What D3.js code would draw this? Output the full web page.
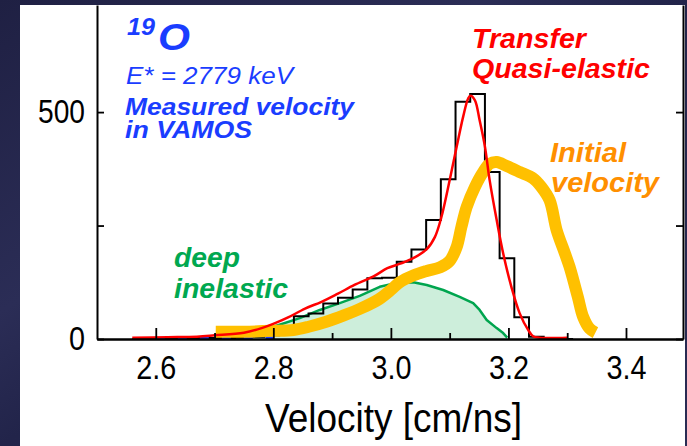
<!DOCTYPE html>
<html>
<head>
<meta charset="utf-8">
<script src="https://cdnjs.cloudflare.com/ajax/libs/d3/7.8.5/d3.min.js"></script>
<style>
  html, body { margin: 0; padding: 0; background: #22244a; }
  svg { display: block; }
  text { font-family: "Liberation Sans", Arial, Helvetica, sans-serif; }
</style>
</head>
<body>
<div id="chart"></div>
<script>
// Measured velocity histogram (counts per 0.025 cm/ns bin)
const binStart = 2.56;
const binWidth = 0.025;
const histCounts = [0, 0, 1, 1, 2, 2, 2, 3, 5, 8, 15, 50, 56, 78, 91, 109, 134, 135,
                    170, 197, 262, 352, 523, 540, 368, 178, 48, 5, 1, 0];

// Transfer / quasi-elastic fit [velocity, counts]
const transferCurve = [
  [2.56, 3], [2.62, 4], [2.67, 5], [2.70, 8], [2.75, 14], [2.78, 24], [2.805, 36],
  [2.826, 48], [2.854, 67], [2.882, 82], [2.91, 100], [2.938, 119], [2.972, 139],
  [2.994, 156], [3.016, 166], [3.038, 178], [3.061, 198], [3.075, 225], [3.086, 269],
  [3.100, 350], [3.112, 424], [3.123, 490], [3.1315, 530], [3.1355, 536], [3.143, 526],
  [3.151, 482], [3.160, 424], [3.168, 350], [3.180, 262], [3.191, 189], [3.205, 115],
  [3.219, 57], [3.2335, 20], [3.242, 6], [3.253, 3], [3.30, 3]
];

// Deep inelastic component [velocity, counts]
const deepCurve = [
  [2.704, 1], [2.743, 6], [2.777, 17], [2.80, 27], [2.845, 46], [2.879, 64], [2.913, 79],
  [2.947, 95], [2.981, 115], [3.004, 122], [3.038, 125], [3.061, 119], [3.089, 108],
  [3.117, 93], [3.14, 79], [3.151, 64], [3.163, 42], [3.18, 24], [3.191, 13], [3.198, 3]
];

// Initial velocity [velocity, counts]
const initialCurve = [
  [2.702, 16], [2.75, 16], [2.80, 18], [2.834, 20], [2.86, 27], [2.89, 38], [2.92, 52],
  [2.95, 68], [2.98, 88], [3.00, 108], [3.015, 125], [3.038, 140], [3.061, 150],
  [3.084, 158], [3.10, 172], [3.112, 203], [3.12, 247], [3.129, 291], [3.143, 335],
  [3.157, 368], [3.168, 386], [3.18, 390], [3.197, 381], [3.219, 368], [3.242, 354],
  [3.256, 335], [3.27, 306], [3.282, 240], [3.296, 189], [3.304, 159], [3.318, 93],
  [3.327, 49], [3.338, 23], [3.348, 14]
];

// faint dashed curve hidden along the baseline
const baseCurve = [[2.60, 1], [2.66, 1], [2.72, 2], [2.80, 2]];

const xMajor = [2.6, 2.8, 3.0, 3.2, 3.4];
const xMinor = [2.7, 2.9, 3.1, 3.3];
const yTicks = [0, 250, 500];

const W = 687, H = 446;

const svg = d3.select("#chart").append("svg")
    .attr("width", W)
    .attr("height", H);

// slide background
const defs = svg.append("defs");
const grad = defs.append("linearGradient")
    .attr("id", "bg")
    .attr("x1", "0").attr("y1", "0").attr("x2", "1").attr("y2", "1");
grad.append("stop").attr("offset", "0").attr("stop-color", "#1f2043");
grad.append("stop").attr("offset", "0.35").attr("stop-color", "#2b2d56");
grad.append("stop").attr("offset", "0.5").attr("stop-color", "#22244a");
grad.append("stop").attr("offset", "1").attr("stop-color", "#2a2c54");
svg.append("rect").attr("width", W).attr("height", H).attr("fill", "url(#bg)");
svg.append("rect")
    .attr("x", 20).attr("y", 5)
    .attr("width", 665).attr("height", H - 5)
    .attr("fill", "#ffffff");

const x = d3.scaleLinear().domain([2.5, 3.497]).range([97, 683]);
const y = d3.scaleLinear().domain([0, 736]).range([339, 5]);

const g = svg.append("g");

// deep inelastic fill + line
g.append("path")
    .datum(deepCurve)
    .attr("fill", "#cdeedb")
    .attr("d", d3.area().x(d => x(d[0])).y0(y(0)).y1(d => y(d[1])));
g.append("path")
    .datum(deepCurve)
    .attr("fill", "none")
    .attr("stroke", "#00a54f")
    .attr("stroke-width", 2.5)
    .attr("stroke-linejoin", "round")
    .attr("d", d3.line().x(d => x(d[0])).y(d => y(d[1])));

// histogram steps
const steps = [];
histCounts.forEach((c, i) => {
    const lo = binStart + i * binWidth;
    steps.push([lo, c], [lo + binWidth, c]);
});
g.append("path")
    .datum(steps)
    .attr("fill", "none")
    .attr("stroke", "#000")
    .attr("stroke-width", 2)
    .attr("d", d3.line().x(d => x(d[0])).y(d => y(d[1])));

// dashed baseline curve
g.append("path")
    .datum(baseCurve)
    .attr("fill", "none")
    .attr("stroke", "#1a3dff")
    .attr("stroke-width", 2.5)
    .attr("stroke-dasharray", "9,13")
    .attr("d", d3.line().x(d => x(d[0])).y(d => y(d[1])));

// initial velocity (thick)
g.append("path")
    .datum(initialCurve)
    .attr("fill", "none")
    .attr("stroke", "#ffc000")
    .attr("stroke-width", 12)
    .attr("stroke-linejoin", "round")
    .attr("d", d3.line().curve(d3.curveCatmullRom).x(d => x(d[0])).y(d => y(d[1])));

// transfer fit
g.append("path")
    .datum(transferCurve)
    .attr("fill", "none")
    .attr("stroke", "#ff0000")
    .attr("stroke-width", 2.5)
    .attr("d", d3.line().curve(d3.curveCatmullRom).x(d => x(d[0])).y(d => y(d[1])));

// axes
function styleAxis(sel) {
    sel.select(".domain").attr("stroke", "#000").attr("stroke-width", 2);
    sel.selectAll(".tick line").attr("stroke", "#000").attr("stroke-width", 1.8);
    sel.selectAll("text")
        .attr("fill", "#000")
        .style("font-size", "34px");
}

const xAxis = svg.append("g")
    .attr("transform", `translate(0,${y(0)})`)
    .call(d3.axisBottom(x).tickValues(xMajor).tickSizeInner(-11).tickSizeOuter(0)
        .tickPadding(16).tickFormat(d3.format(".1f")))
    .call(styleAxis);
xAxis.selectAll("text")
    .attr("textLength", 40)
    .attr("lengthAdjust", "spacingAndGlyphs");

svg.append("g")
    .attr("transform", `translate(0,${y(0)})`)
    .call(d3.axisBottom(x).tickValues(xMinor).tickSizeInner(-6).tickSizeOuter(0)
        .tickFormat(""))
    .call(styleAxis);

const yAxis = svg.append("g")
    .attr("transform", `translate(${x.range()[0]},0)`)
    .call(d3.axisLeft(y).tickValues(yTicks).tickSizeInner(-7).tickSizeOuter(0)
        .tickPadding(12).tickFormat(d => d === 250 ? "" : d))
    .call(styleAxis);
yAxis.selectAll("text")
    .filter(d => d === 500)
    .attr("textLength", 47)
    .attr("lengthAdjust", "spacingAndGlyphs");
yAxis.selectAll("text")
    .filter(d => d === 0)
    .attr("textLength", 16)
    .attr("lengthAdjust", "spacingAndGlyphs");

svg.append("g")
    .attr("transform", `translate(${x.range()[1]},0)`)
    .call(d3.axisRight(y).tickValues(yTicks).tickSizeInner(-7).tickSizeOuter(0)
        .tickFormat(""))
    .call(styleAxis);

// axis title
svg.append("text")
    .attr("x", 265).attr("y", 432)
    .attr("textLength", 257)
    .attr("lengthAdjust", "spacingAndGlyphs")
    .style("font-size", "40px")
    .attr("fill", "#000")
    .text("Velocity [cm/ns]");

// annotations
function note(txt, px, py, size, color, len, bold) {
    svg.append("text")
        .attr("x", px).attr("y", py)
        .attr("fill", color)
        .attr("font-style", "italic")
        .attr("font-weight", bold ? "bold" : "normal")
        .attr("textLength", len)
        .attr("lengthAdjust", "spacingAndGlyphs")
        .style("font-size", size + "px")
        .text(txt);
}

const blue = "#1a3dff";
note("19", 127, 35, 23, blue, 28, true);
note("O", 158, 50, 37, blue, 32, true);
note("E* = 2779 keV", 126, 84, 24, blue, 167, false);
note("Measured velocity", 125, 114.5, 23, blue, 229, true);
note("in VAMOS", 125, 138, 23, blue, 127, true);

note("Transfer", 472, 48, 28, "#ff0000", 114, true);
note("Quasi-elastic", 472, 78, 28, "#ff0000", 178, true);

note("Initial", 550, 161.5, 28, "#ff8f00", 76, true);
note("velocity", 551, 191.5, 28, "#ff8f00", 108, true);

note("deep", 174, 267, 27, "#00a850", 66, true);
note("inelastic", 174, 298, 27, "#00a850", 114, true);
</script>
</body>
</html>
